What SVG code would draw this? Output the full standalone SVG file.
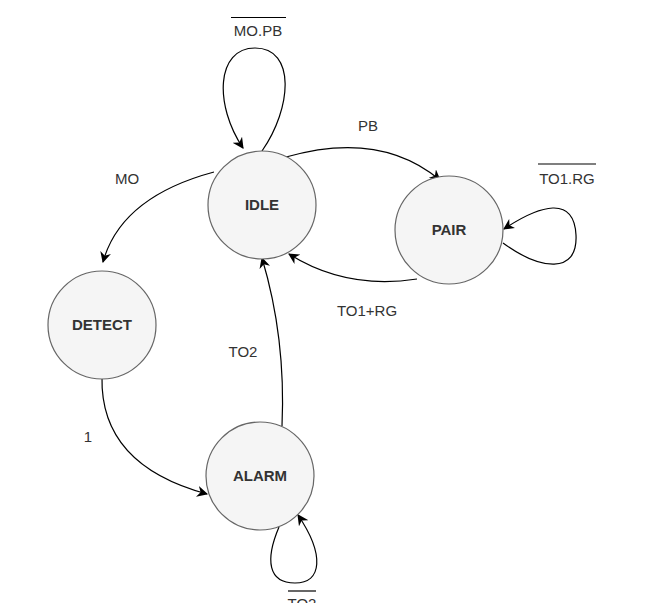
<svg xmlns="http://www.w3.org/2000/svg" width="645" height="603" viewBox="0 0 645 603">
<defs>
<marker id="arr" viewBox="0 0 10 10" refX="9" refY="5" markerWidth="11" markerHeight="11" markerUnits="userSpaceOnUse" orient="auto">
<path d="M0,0 L10,5 L0,10 L3,5 z" fill="#000"/>
</marker>
<style>
.node circle{fill:#f5f5f5;stroke:#666;stroke-width:1.2}
.node text{font-family:"Liberation Sans",Arial,sans-serif;font-size:15px;font-weight:bold;fill:#333;text-anchor:middle}
.edge{fill:none;stroke:#000;stroke-width:1.2;marker-end:url(#arr)}
.lbl{font-family:"Liberation Sans",Arial,sans-serif;font-size:15px;fill:#333;text-anchor:middle}
.ov{stroke:#000;stroke-width:1.2}
</style>
</defs>
<rect width="645" height="603" fill="#fff"/>
<g id="connectors">
<path class="edge" d="M262 151 C292 108,296 48,255 48 C216 48,214 105,243 148"/>
<path class="edge" d="M286 157 Q380 130 440 180"/>
<path class="edge" d="M214 172 Q121 197 103 262"/>
<path class="edge" d="M417 279 Q346 290 289 254"/>
<path class="edge" d="M503 243 C540 270,578 275,576 235 C574 195,540 205,504 229"/>
<path class="edge" d="M102 377 Q100 465 207 494"/>
<path class="edge" d="M282 426 Q286 338 262 258"/>
<path class="edge" d="M279 527 C265 560,268 583,295 583 C322 583,325 555,298 515"/>
</g>
<g id="labels">
<line class="ov" x1="231" y1="17.5" x2="286" y2="17.5"/>
<text class="lbl" x="258" y="36">MO.PB</text>
<text class="lbl" x="368" y="131">PB</text>
<text class="lbl" x="127" y="184">MO</text>
<line class="ov" x1="538" y1="164" x2="596" y2="164"/>
<text class="lbl" x="567" y="184">TO1.RG</text>
<text class="lbl" x="367" y="316">TO1+RG</text>
<text class="lbl" x="243" y="357">TO2</text>
<text class="lbl" x="88" y="442">1</text>
<line class="ov" x1="288" y1="591" x2="316" y2="591"/>
<text class="lbl" x="302" y="609">TO2</text>
</g>
<g id="IDLE" class="node"><circle cx="262" cy="205" r="54"/><text x="262" y="210">IDLE</text></g>
<g id="PAIR" class="node"><circle cx="449" cy="230" r="54"/><text x="449" y="235">PAIR</text></g>
<g id="DETECT" class="node"><circle cx="102" cy="325" r="54"/><text x="102" y="330">DETECT</text></g>
<g id="ALARM" class="node"><circle cx="260" cy="476" r="54"/><text x="260" y="481">ALARM</text></g>
</svg>
